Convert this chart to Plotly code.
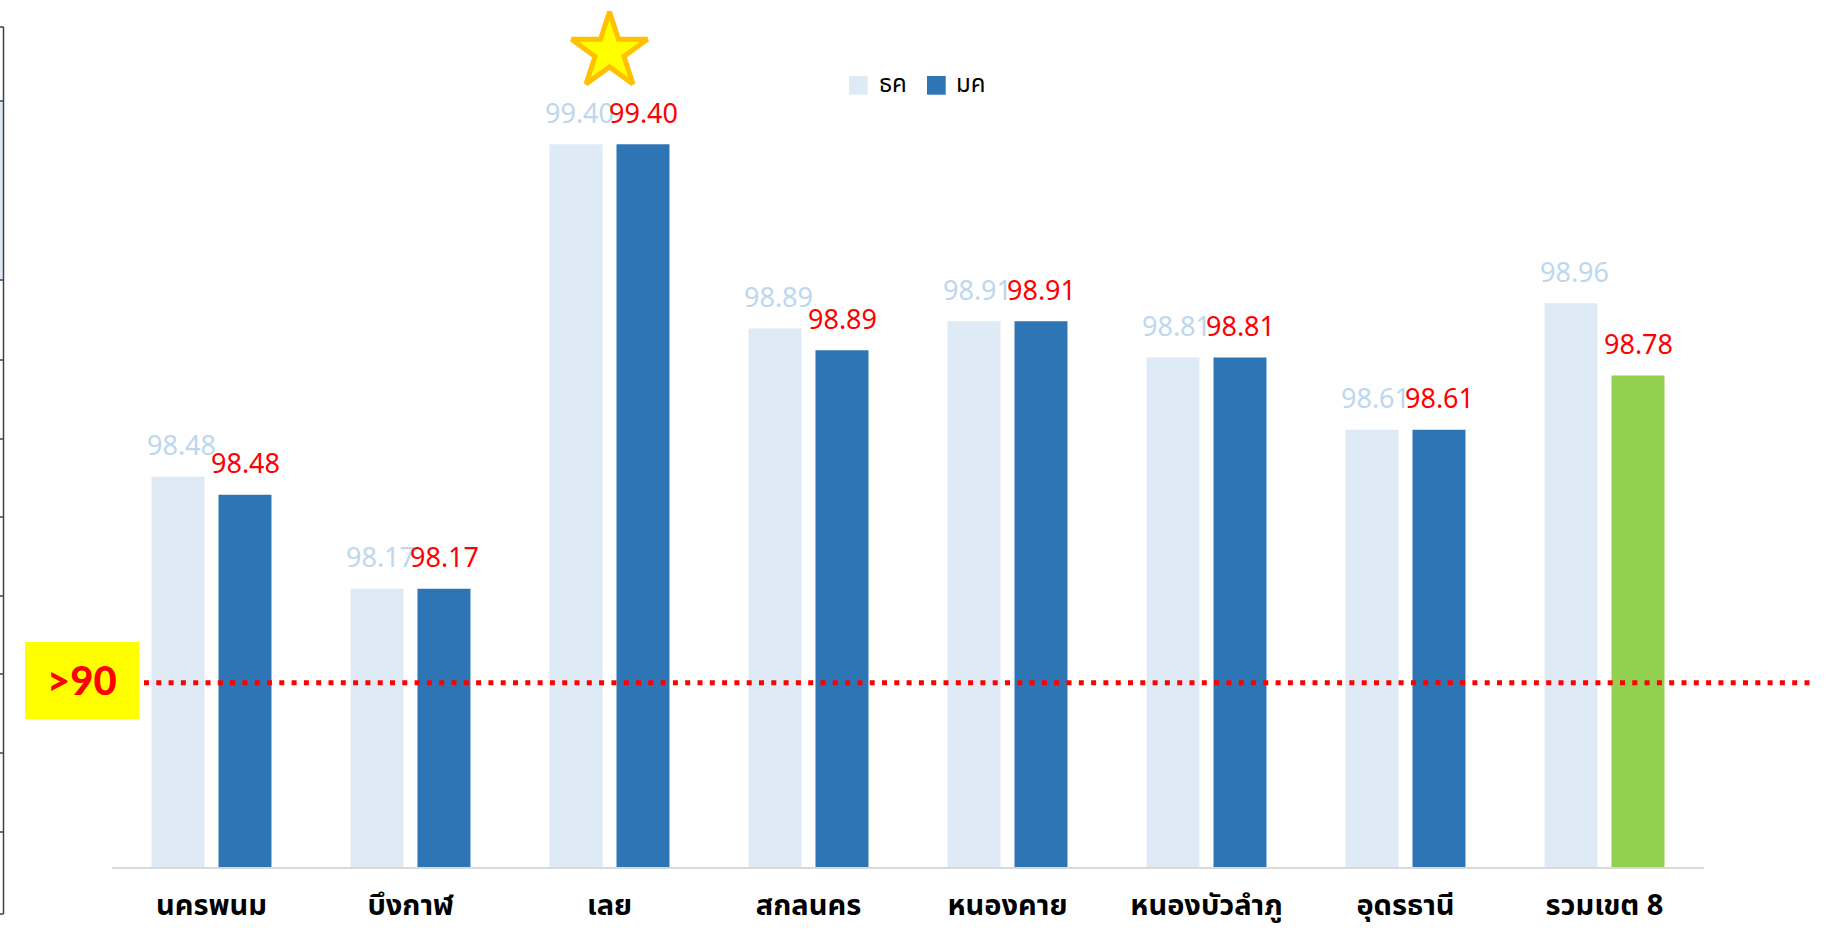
import plotly.graph_objects as go

# ---------------- data ----------------
categories = ["นครพนม", "บึงกาฬ", "เลย", "สกลนคร", "หนองคาย", "หนองบัวลำภู", "อุดรธานี", "รวมเขต 8"]
series_names = ["ธค", "มค"]
dec_values = [98.48, 98.17, 99.40, 98.89, 98.91, 98.81, 98.61, 98.96]
jan_values = [98.43, 98.17, 99.40, 98.83, 98.91, 98.81, 98.61, 98.76]
dec_labels = ["98.48", "98.17", "99.40", "98.89", "98.91", "98.81", "98.61", "98.96"]
jan_labels = ["98.48", "98.17", "99.40", "98.89", "98.91", "98.81", "98.61", "98.78"]
threshold_text = ">90"
threshold_y = 97.91
star_index = 2
highlight_index = 7

# ---------------- styling ----------------
W, H = 1844, 930
ML, MR, MT, MB = 112, 140, 20, 63
PW, PH = W - ML - MR, H - MT - MB
Y_RANGE = [97.40, 97.40 + PH / 361.4]

LIGHT = "#DEEAF6"
DARK = "#2E75B6"
GREEN = "#92D050"
LABEL_LIGHT = "#BDD7EE"
RED = "#FF0000"
NUM_FONT = "Noto Sans, sans-serif"
THAI_FONT = "Noto Sans Thai, Noto Sans, sans-serif"


def px(x):
    return (x - ML) / PW


def py(y):
    return (H - MB - y) / PH


jan_colors = [GREEN if i == highlight_index else DARK for i in range(len(categories))]

fig = go.Figure()
fig.add_trace(go.Bar(x=categories, y=dec_values, name=series_names[0],
                     marker=dict(color=LIGHT, line=dict(width=0)), showlegend=False))
fig.add_trace(go.Bar(x=categories, y=jan_values, name=series_names[1],
                     marker=dict(color=jan_colors, line=dict(width=0)), showlegend=False))

# star over the best province
fig.add_trace(go.Scatter(
    x=[categories[star_index]], y=[dec_values[star_index] + 0.256], mode="markers",
    marker=dict(symbol="star", size=57, color="#FFFF00", line=dict(color="#FFC000", width=5)),
    showlegend=False, hoverinfo="skip", cliponaxis=False))

annotations = []
for cat, v, t in zip(categories, dec_values, dec_labels):
    annotations.append(dict(x=cat, y=v, xref="x", yref="y", text=t, showarrow=False,
                            xshift=-30.5, yshift=32, yanchor="middle",
                            font=dict(family=NUM_FONT, size=27, color=LABEL_LIGHT)))
for cat, v, t in zip(categories, jan_values, jan_labels):
    annotations.append(dict(x=cat, y=v, xref="x", yref="y", text=t, showarrow=False,
                            xshift=33.5, yshift=32, yanchor="middle",
                            font=dict(family=NUM_FONT, size=27, color=RED)))

shapes = []
# left-edge table fragment
shapes.append(dict(type="rect", xref="paper", yref="paper", x0=px(0), x1=px(3.5),
                   y0=py(280), y1=py(101), fillcolor=LIGHT, line=dict(width=0), layer="below"))
shapes.append(dict(type="line", xref="paper", yref="paper", x0=px(3.5), x1=px(3.5),
                   y0=py(914), y1=py(27), line=dict(color="#404040", width=1.5)))
for yy in [27, 101, 280, 360, 439, 517, 596, 674, 753, 832, 914]:
    shapes.append(dict(type="line", xref="paper", yref="paper", x0=px(0), x1=px(3.5),
                       y0=py(yy), y1=py(yy), line=dict(color="#404040", width=1.5)))

# threshold box and dotted line
shapes.append(dict(type="rect", xref="paper", yref="paper", x0=px(25), x1=px(139),
                   y0=py(719), y1=py(642), fillcolor="#FFFF00", line=dict(width=0)))
shapes.append(dict(type="line", xref="paper", yref="y", x0=px(144), x1=px(1815),
                   y0=threshold_y, y1=threshold_y,
                   line=dict(color=RED, width=5, dash="5px,7.3px"), layer="above"))
annotations.append(dict(x=px(82), y=py(680), xref="paper", yref="paper", text=threshold_text,
                        showarrow=False, xanchor="center", yanchor="middle",
                        font=dict(family="Lato, Roboto, sans-serif", size=40, color=RED, weight=900)))

# manual legend
legend_items = [(series_names[0], LIGHT, 849, 877), (series_names[1], DARK, 927, 954)]
for name, col, sx, tx in legend_items:
    shapes.append(dict(type="rect", xref="paper", yref="paper", x0=px(sx), x1=px(sx + 18.7),
                       y0=py(94.7), y1=py(76), fillcolor=col, line=dict(width=0)))
    annotations.append(dict(x=px(tx), y=py(85), xref="paper", yref="paper", text=name,
                            showarrow=False, xanchor="left", yanchor="middle",
                            font=dict(family=THAI_FONT, size=24, color="#000000")))

fig.update_layout(
    width=W, height=H,
    margin=dict(l=ML, r=MR, t=MT, b=MB, pad=0, autoexpand=False),
    paper_bgcolor="white", plot_bgcolor="white",
    barmode="group", bargap=0.327, bargroupgap=0.209,
    shapes=shapes, annotations=annotations,
    showlegend=False,
    xaxis=dict(showline=True, linecolor="#D9D9D9", linewidth=2, showgrid=False, zeroline=False,
               automargin=False,
               ticks="outside", ticklen=11, tickcolor="rgba(0,0,0,0)",
               tickfont=dict(family=THAI_FONT, size=29, color="#000000", weight="bold")),
    yaxis=dict(range=Y_RANGE, visible=False, showgrid=False, zeroline=False, automargin=False),
)

fig.write_html("out.html", config={"displayModeBar": False},
               post_script="document.body.style.margin='0';")
